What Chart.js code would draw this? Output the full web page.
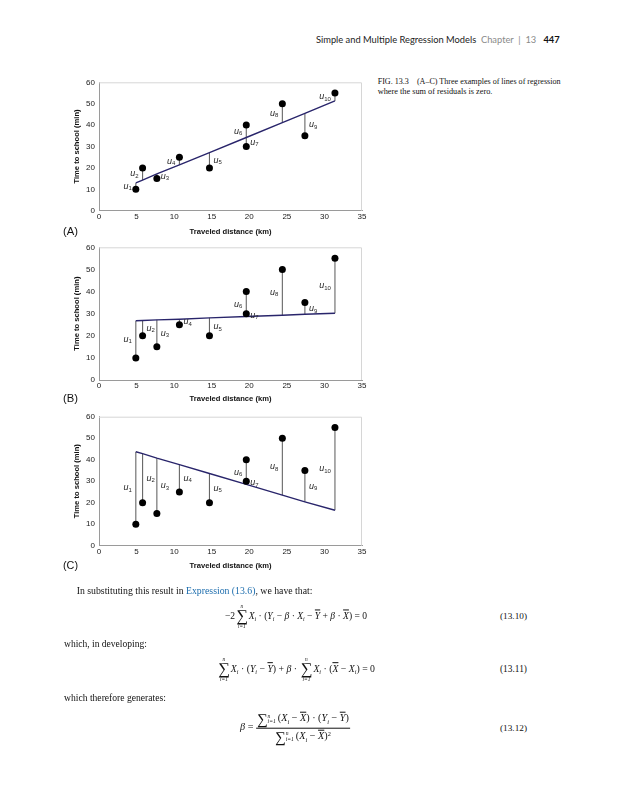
<!DOCTYPE html>
<html>
<head>
<meta charset="utf-8">
<script src="https://cdn.jsdelivr.net/npm/chart.js@4.4.0/dist/chart.umd.min.js"></script>
<style>
  body { margin: 0; background: #fff; }
  #page { position: relative; width: 625px; height: 800px; overflow: hidden; background: #fff;
          font-family: "Liberation Serif", serif; color: #111; }
  .abs { position: absolute; white-space: nowrap; line-height: 1; transform: translateY(-50%); }
  .ctr { transform: translate(-50%, -50%); }
  canvas { position: absolute; left: 60px; }
  .hdr { font-family: Lato, "Open Sans", sans-serif; color: #222; }
  .hdr .grey { color: #8a8a8a; }
  .hdr b { color: #111; }
  .sans { font-family: "Liberation Sans", Arial, sans-serif; }
  .link { color: #1b6cad; }
  .eq { font-family: "Liberation Serif", serif; font-size: 10px; }
  .eq i { font-style: italic; }
  .eq sub { font-size: 0.62em; vertical-align: -0.35em; line-height: 0; font-style: italic; }
  .eq sup { font-size: 0.62em; vertical-align: 0.6em; line-height: 0; }
  .bar { text-decoration: overline; }
  .sum { display: inline-flex; flex-direction: column; align-items: center; vertical-align: middle; line-height: 1; margin: 0 1px; }
  .sum .sig { font-size: 1.7em; line-height: 0.9; }
  .sum .lim { font-size: 0.55em; font-style: italic; }
  .isum { display: inline-flex; align-items: center; vertical-align: middle; }
  .isum .sig { font-size: 1.45em; line-height: 1; }
  .isum .lims { display: inline-flex; flex-direction: column; font-size: 0.55em; font-style: italic; line-height: 1.05; margin-right: 2px; }
  .frac { display: inline-flex; flex-direction: column; align-items: center; vertical-align: middle; }
  .frac .num { border-bottom: 0.7px solid #111; padding: 0 1px 1px; }
  .frac .den { padding-top: 1px; }
</style>
</head>
<body>
<div id="page">
  <div class="abs hdr" data-x="316" data-y="40" data-w="244">Simple and Multiple Regression Models&nbsp;&nbsp;<span class="grey">Chapter&nbsp;&nbsp;|&nbsp;&nbsp;13</span>&nbsp;&nbsp;&nbsp;<b>447</b></div>

  <div class="abs" data-x="377.7" data-y="81.7" data-w="183">FIG. 13.3&nbsp;&nbsp;&nbsp;&nbsp;(A–C) Three examples of lines of regression</div>
  <div class="abs" data-x="377.7" data-y="91.7" data-w="115">where the sum of residuals is zero.</div>

  <canvas id="chartA"></canvas>
  <canvas id="chartB"></canvas>
  <canvas id="chartC"></canvas>

  <div class="abs sans" data-x="63" data-y="231.5" data-w="15">(A)</div>
  <div class="abs sans" data-x="63" data-y="399" data-w="15">(B)</div>
  <div class="abs sans" data-x="63" data-y="565" data-w="15">(C)</div>

  <div class="abs" data-x="76.7" data-y="591" data-w="236">In substituting this result in <span class="link">Expression (13.6)</span>, we have that:</div>

  <div class="abs eq ctr" data-cx="296" data-y="616.7" data-w="142">−2<span class="sum"><span class="lim">n</span><span class="sig">∑</span><span class="lim">i=1</span></span><i>X</i><sub>i</sub> · (<i>Y</i><sub>i</sub> − <i>β</i> · <i>X</i><sub>i</sub> − <i class="bar">Y</i> + <i>β</i> · <i class="bar">X</i>) = 0</div>
  <div class="abs" data-x="500" data-y="616.7" data-w="27">(13.10)</div>

  <div class="abs" data-x="64" data-y="644" data-w="83">which, in developing:</div>

  <div class="abs eq ctr" data-cx="296" data-y="670" data-w="158"><span class="sum"><span class="lim">n</span><span class="sig">∑</span><span class="lim">i=1</span></span><i>X</i><sub>i</sub> · (<i>Y</i><sub>i</sub> − <i class="bar">Y</i>) + <i>β</i> · <span class="sum"><span class="lim">n</span><span class="sig">∑</span><span class="lim">i=1</span></span><i>X</i><sub>i</sub> · (<i class="bar">X</i> − <i>X</i><sub>i</sub>) = 0</div>
  <div class="abs" data-x="500" data-y="670" data-w="27">(13.11)</div>

  <div class="abs" data-x="64" data-y="698" data-w="102">which therefore generates:</div>

  <div class="abs eq ctr" data-cx="295" data-y="728" data-w="110"><i>β</i> = <span class="frac"><span class="num"><span class="isum"><span class="sig">∑</span><span class="lims"><span>n</span><span>i=1</span></span></span>(<i>X</i><sub>i</sub> − <i class="bar">X</i>) · (<i>Y</i><sub>i</sub> − <i class="bar">Y</i>)</span><span class="den"><span class="isum"><span class="sig">∑</span><span class="lims"><span>n</span><span>i=1</span></span></span>(<i>X</i><sub>i</sub> − <i class="bar">X</i>)<sup>2</sup></span></span></div>
  <div class="abs" data-x="500" data-y="729" data-w="27">(13.12)</div>
</div>

<script>
// data
const distance = [4.9, 5.8, 7.7, 10.7, 14.7, 19.6, 19.6, 24.4, 27.4, 31.4]
const timeMin = [10, 20, 15, 25, 20, 40, 30, 50, 35, 55]
const fittedA = [13.0, 14.3, 17.2, 21.4, 27.1, 34.2, 34.2, 41.2, 45.5, 51.3]
const fittedB = [26.8, 26.9, 27.2, 27.5, 28.1, 28.7, 28.7, 29.3, 29.7, 30.2]
const fittedC = [43.7, 42.8, 40.7, 37.7, 33.6, 28.5, 28.5, 23.5, 20.4, 16.5]
const xTickValues = [0, 5, 10, 15, 20, 25, 30, 35]
const yTickValues = [0, 10, 20, 30, 40, 50, 60]
const xTitle = 'Traveled distance (km)'
const yTitle = 'Time to school (min)'

// which side of the residual segment each u_i label sits
const sidesA = ['l', 'l', 'r', 'l', 'r', 'l', 'r', 'l', 'r', 'l']
const sidesB = ['l', 'r', 'r', 'r', 'r', 'l', 'r', 'l', 'r', 'l']
const sidesC = ['l', 'r', 'r', 'r', 'r', 'l', 'r', 'l', 'r', 'l']

// ── text placement ─────────────────────────────────────────────────────────
document.querySelectorAll('#page [data-w]').forEach((el) => {
  el.style.fontSize = el.classList.contains('eq') ? '10px' : '9px'
  const target = +el.dataset.w
  const w = el.getBoundingClientRect().width
  el.style.fontSize = (parseFloat(el.style.fontSize) * target / w) + 'px'
  el.style.top = el.dataset.y + 'px'
  el.style.left = (el.dataset.cx ?? el.dataset.x) + 'px'
})

// ── charts ─────────────────────────────────────────────────────────────────
const TITLE_SIZE = 7.6
const TITLE_LH = TITLE_SIZE * 1.2

const plotFrame = {
  id: 'plotFrame',
  beforeDatasetsDraw(chart) {
    const { ctx, chartArea: a } = chart
    ctx.save()
    ctx.strokeStyle = '#d6d6d6'
    ctx.lineWidth = 1
    ctx.beginPath()
    ctx.moveTo(a.left, a.top + 0.5)
    ctx.lineTo(a.right - 0.5, a.top + 0.5)
    ctx.lineTo(a.right - 0.5, a.bottom)
    ctx.stroke()
    ctx.restore()
  },
}

const residualLabels = {
  id: 'residualLabels',
  afterDatasetsDraw(chart, args, opts) {
    const { ctx, scales: { x, y } } = chart
    ctx.save()
    ctx.fillStyle = '#2a2a2a'
    ctx.textBaseline = 'middle'
    distance.forEach((d, i) => {
      const px = x.getPixelForValue(d)
      const mid = (y.getPixelForValue(timeMin[i]) + y.getPixelForValue(opts.fitted[i])) / 2
      const sub = String(i + 1)
      ctx.font = 'italic 9px "Liberation Sans"'
      const wU = ctx.measureText('u').width
      ctx.font = '6px "Liberation Sans"'
      const wS = ctx.measureText(sub).width
      const left = opts.sides[i] === 'l' ? px - 4 - wU - wS : px + 4
      ctx.font = 'italic 9px "Liberation Sans"'
      ctx.fillText('u', left, mid)
      ctx.font = '6px "Liberation Sans"'
      ctx.fillText(sub, left + wU, mid + 2.5)
    })
    ctx.restore()
  },
}

function buildChart(id, fitted, sides, top, areaTop, areaBottom, titleY) {
  const canvas = document.getElementById(id)
  const h = Math.round(titleY + 7 - top)
  canvas.width = 310
  canvas.height = h
  canvas.style.top = top + 'px'
  const xAxisH = titleY + TITLE_LH / 2 - areaBottom

  const residuals = distance.map((d, i) => ({
    data: [{ x: d, y: timeMin[i] }, { x: d, y: fitted[i] }],
    showLine: true,
    borderColor: '#666',
    borderWidth: 1.1,
    pointRadius: 0,
  }))

  return new Chart(canvas, {
    type: 'scatter',
    data: {
      datasets: [
        {
          data: distance.map((d, i) => ({ x: d, y: timeMin[i] })),
          backgroundColor: '#000',
          borderColor: '#000',
          pointRadius: 3.5,
          borderWidth: 0,
        },
        {
          data: distance.map((d, i) => ({ x: d, y: fitted[i] })),
          showLine: true,
          borderColor: '#29256b',
          borderWidth: 1.4,
          pointRadius: 0,
        },
        ...residuals,
      ],
    },
    options: {
      responsive: false,
      animation: false,
      events: [],
      layout: { padding: { left: 12, right: 8, top: areaTop - top, bottom: h - (titleY + TITLE_LH / 2 - top) } },
      plugins: {
        legend: { display: false },
        tooltip: { enabled: false },
        residualLabels: { fitted, sides },
      },
      scales: {
        x: {
          type: 'linear',
          min: 0, max: 35,
          afterBuildTicks: (s) => { s.ticks = xTickValues.map((v) => ({ value: v })) },
          afterFit: (s) => { s.height = xAxisH },
          grid: { display: false, drawTicks: false },
          border: { display: true, color: '#9a9a9a', width: 1 },
          ticks: { color: '#1a1a1a', padding: 1, maxRotation: 0, font: { family: 'Liberation Sans', size: 8 } },
          title: { display: true, text: xTitle, color: '#111', padding: 0, font: { family: 'Liberation Sans', size: TITLE_SIZE, weight: 'bold', lineHeight: 1.2 } },
        },
        y: {
          min: 0, max: 60,
          afterBuildTicks: (s) => { s.ticks = yTickValues.map((v) => ({ value: v })) },
          afterFit: (s) => { s.width = 27 },
          grid: { display: false, drawTicks: false },
          border: { display: true, color: '#9a9a9a', width: 1 },
          ticks: { color: '#1a1a1a', padding: 4, font: { family: 'Liberation Sans', size: 8 } },
          title: { display: true, text: yTitle, color: '#111', padding: 0, font: { family: 'Liberation Sans', size: TITLE_SIZE, weight: 'bold', lineHeight: 1.2 } },
        },
      },
    },
    plugins: [plotFrame, residualLabels],
  })
}

buildChart('chartA', fittedA, sidesA, 70, 82.3, 210.7, 232.3)
buildChart('chartB', fittedB, sidesB, 236, 247.3, 380, 399.3)
buildChart('chartC', fittedC, sidesC, 405, 416.7, 545.7, 565.7)
</script>
</body>
</html>
